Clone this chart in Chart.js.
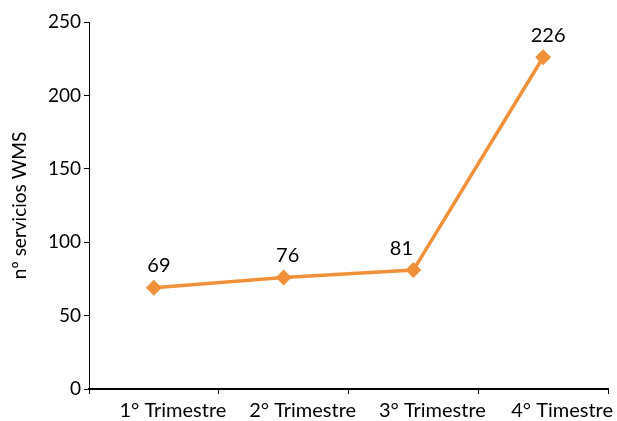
<!DOCTYPE html>
<html>
<head>
<meta charset="utf-8">
<script src="https://cdn.jsdelivr.net/npm/chart.js@4/dist/chart.umd.min.js"></script>
<style>
html,body{margin:0;padding:0;background:#fff;}
#wrap{width:617px;height:421px;position:relative;}
</style>
</head>
<body>
<div id="wrap"><canvas id="c" width="617" height="421"></canvas></div>
<script>
const categories = ["1° Trimestre", "2° Trimestre", "3° Trimestre", "4° Timestre"];
const serviceCounts = [69, 76, 81, 226];
const yTicks = [0, 50, 100, 150, 200, 250];
const yTitle = "nº servicios WMS";

const FONT = "Lato, 'Open Sans', sans-serif";
const ORANGE = "#F0913A";
// horizontal nudge of each value label (style only)
const labelNudgeX = [5, 4, -12, 5];

const labelPlugin = {
  id: "pointLabels",
  afterDatasetsDraw(chart) {
    const ctx = chart.ctx;
    const meta = chart.getDatasetMeta(0);
    ctx.save();
    ctx.fillStyle = "#000";
    ctx.font = "20px " + FONT;
    ctx.textAlign = "center";
    ctx.textBaseline = "middle";
    meta.data.forEach((pt, i) => {
      ctx.fillText(String(serviceCounts[i]), pt.x + labelNudgeX[i], pt.y - 22);
    });
    ctx.restore();
  }
};

new Chart(document.getElementById("c"), {
  type: "line",
  data: {
    labels: categories,
    datasets: [{
      data: serviceCounts,
      borderColor: ORANGE,
      backgroundColor: ORANGE,
      borderWidth: 3.5,
      pointStyle: "rectRot",
      pointRadius: 5.5,
      pointBackgroundColor: ORANGE,
      pointBorderColor: ORANGE,
      tension: 0,
      fill: false
    }]
  },
  options: {
    responsive: false,
    animation: false,
    devicePixelRatio: 1,
    layout: { padding: { top: 22, right: 5, left: 0, bottom: 0 } },
    plugins: { legend: { display: false }, tooltip: { enabled: false } },
    scales: {
      x: {
        offset: true,
        grid: { display: true, drawOnChartArea: false, offset: true, tickLength: 5, color: "#000", lineWidth: 1 },
        border: { color: "#000", width: 2 },
        ticks: { color: "#000", font: { family: FONT, size: 20 }, padding: 5, maxRotation: 0, labelOffset: 19 },
        afterFit(s) { s.height = 32; }
      },
      y: {
        min: 0, max: 250,
        afterBuildTicks(s) { s.ticks = yTicks.map(v => ({ value: v })); },
        grid: { display: true, drawOnChartArea: false, tickLength: 5, color: "#000", lineWidth: 1 },
        border: { color: "#000", width: 1 },
        ticks: { color: "#000", font: { family: FONT, size: 19 }, padding: 3 },
        title: { display: true, text: yTitle, color: "#000", font: { family: FONT, size: 19 }, padding: { top: 8, bottom: 4 } },
        afterFit(s) { s.width = 89; }
      }
    }
  },
  plugins: [labelPlugin]
});
</script>
</body>
</html>
